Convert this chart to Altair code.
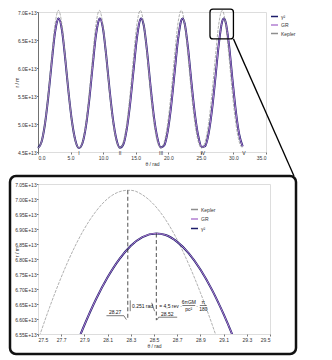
import altair as alt
import pandas as pd

# ---------------- main panel data (r in units of 1e13 m) ----------------
theta_top = [0.000, 0.524, 1.047, 1.571, 2.094, 2.618, 3.142, 3.665, 4.189, 4.712, 5.236, 5.760,
             6.283, 6.807, 7.330, 7.854, 8.378, 8.901, 9.425, 9.948, 10.472, 10.996, 11.519, 12.043,
             12.566, 13.090, 13.614, 14.137, 14.661, 15.184, 15.708, 16.232, 16.755, 17.279, 17.802, 18.326,
             18.850, 19.373, 19.897, 20.420, 20.944, 21.468, 21.991, 22.515, 23.038, 23.562, 24.086, 24.609,
             25.133, 25.656, 26.180, 26.704, 27.227, 27.751, 28.274, 28.798, 29.322, 29.845, 30.369, 30.892,
             31.416]
kepler_top = [4.570, 4.680, 5.008, 5.539, 6.196, 6.785, 7.029, 6.785, 6.196, 5.539, 5.008, 4.680,
              4.570, 4.680, 5.008, 5.539, 6.196, 6.785, 7.029, 6.785, 6.196, 5.539, 5.008, 4.680,
              4.570, 4.680, 5.008, 5.539, 6.196, 6.785, 7.029, 6.785, 6.196, 5.539, 5.008, 4.680,
              4.570, 4.680, 5.008, 5.539, 6.196, 6.785, 7.029, 6.785, 6.196, 5.539, 5.008, 4.680,
              4.570, 4.680, 5.008, 5.539, 6.196, 6.785, 7.029, 6.785, 6.196, 5.539, 5.008, 4.680,
              4.570]
gr_top = [4.570, 4.673, 4.982, 5.478, 6.089, 6.640, 6.884, 6.685, 6.155, 5.540, 5.027, 4.697,
          4.571, 4.652, 4.939, 5.418, 6.022, 6.591, 6.879, 6.726, 6.220, 5.603, 5.074, 4.722,
          4.575, 4.634, 4.899, 5.359, 5.956, 6.540, 6.868, 6.763, 6.284, 5.668, 5.123, 4.750,
          4.581, 4.618, 4.861, 5.301, 5.889, 6.484, 6.852, 6.795, 6.346, 5.733, 5.174, 4.781,
          4.589, 4.604, 4.825, 5.246, 5.822, 6.427, 6.831, 6.823, 6.407, 5.799, 5.227, 4.813,
          4.600]
gr_peak_theta = [3.170, 9.509, 15.848, 22.187, 28.527]
gr_peak_r = [6.885, 6.885, 6.885, 6.885, 6.885]
gamma2_top = list(gr_top)
gamma2_peak_r = list(gr_peak_r)

orbit_labels = ["I", "II", "III", "IV", "V"]
orbit_label_theta = [6.3, 12.6, 18.9, 25.3, 31.6]

top_x_ticks = [0, 5, 10, 15, 20, 25, 30, 35]
top_y_ticks = [4.5e13, 5.0e13, 5.5e13, 6.0e13, 6.5e13, 7.0e13]

# ---------------- zoom panel data ----------------
theta_kep_zoom = [27.5, 27.6, 27.7, 27.8, 27.9, 28.0, 28.1, 28.2, 28.274, 28.3, 28.4, 28.5,
                  28.6, 28.7, 28.8, 28.9, 29.0, 29.1]
kepler_zoom = [6.529, 6.639, 6.739, 6.827, 6.901, 6.959, 7.001, 7.024, 7.029, 7.029, 7.014, 6.981,
               6.931, 6.864, 6.782, 6.688, 6.583, 6.468]
theta_gr_zoom = [27.8, 27.9, 28.0, 28.1, 28.2, 28.3, 28.4, 28.52, 28.6, 28.7, 28.8, 28.9,
                 29.0, 29.1, 29.2, 29.3]
gr_zoom = [6.484, 6.580, 6.666, 6.739, 6.799, 6.844, 6.873, 6.885, 6.880, 6.857, 6.819, 6.765,
           6.697, 6.616, 6.524, 6.423]
gamma2_zoom = list(gr_zoom)

low_x_ticks = [27.5, 27.7, 27.9, 28.1, 28.3, 28.5, 28.7, 28.9, 29.1, 29.3, 29.5]
low_y_ticks = [6.55e13, 6.60e13, 6.65e13, 6.70e13, 6.75e13, 6.80e13, 6.85e13, 6.90e13, 6.95e13,
               7.00e13, 7.05e13]

kepler_peak = [28.274, 7.029]
gr_peak = [28.52, 6.885]

# ---------------- styling ----------------
FONT = "Liberation Sans Narrow, Liberation Sans, sans-serif"
C_GAMMA = "#1d1d6b"
C_GR = "#b27fd2"
C_KEP = "#8e8e8e"
FS = 5

top_w, top_h = 228, 140
low_w, low_h = 232, 150


def frame(name, th, rr):
    return pd.DataFrame({"series": name, "theta": th, "r": [v * 1e13 for v in rr]})


def x_axis(vals):
    return alt.Axis(values=vals, tickCount=40, format=".1f", title="θ / rad", domain=False, grid=False,
                    labelOverlap=False, tickSize=2, tickColor="#777", labelFontSize=FS, labelPadding=1,
                    titleFontSize=FS, titleFontWeight="normal", titlePadding=1,
                    labelColor="#333", titleColor="#333", labelFont=FONT, titleFont=FONT)


def y_axis(vals, fmt, show_domain, title_y):
    return alt.Axis(values=vals, tickCount=40,
                    labelExpr="replace(format(datum.value, '" + fmt + "'), 'e', 'E')",
                    title="r / m", domain=show_domain, domainColor="#555", domainWidth=0.8, grid=False,
                    labelOverlap=False, tickSize=1.5, tickColor="#777", labelFontSize=FS, labelPadding=0.3,
                    titleFontSize=FS, titleFontWeight="normal", titleX=-22, titleY=title_y,
                    titleBaseline="middle", labelColor="#333", titleColor="#333",
                    labelFont=FONT, titleFont=FONT)


one = pd.DataFrame({"a": [1]})

# ================= top panel =================
kep_df = frame("Kepler", theta_top, kepler_top)
gr_df = pd.concat([frame("GR", theta_top, gr_top), frame("GR", gr_peak_theta, gr_peak_r)]).sort_values("theta")
ga_df = pd.concat([frame("γ²", theta_top, gamma2_top), frame("γ²", gr_peak_theta, gamma2_peak_r)]).sort_values("theta")

x_top = alt.X("theta:Q", scale=alt.Scale(domain=[0, 35], nice=False, zero=False), axis=x_axis(top_x_ticks))
y_top = alt.Y("r:Q", scale=alt.Scale(domain=[4.5e13, 7.0e13], nice=False, zero=False),
              axis=y_axis(top_y_ticks, ".1e", True, 70))

top_scale = alt.Scale(domain=["γ²", "GR", "Kepler"], range=[C_GAMMA, C_GR, C_KEP])
top_legend = alt.Legend(orient="none", legendX=232, legendY=0, title=None, labelFontSize=FS,
                        labelFont=FONT, labelColor="#333", symbolType="stroke", symbolStrokeWidth=1.5,
                        symbolSize=49, rowPadding=0.5, labelOffset=2, padding=0)
c_top = alt.Color("series:N", scale=top_scale, legend=top_legend)

t_gamma = alt.Chart(ga_df).mark_line(strokeWidth=2.0, interpolate="monotone").encode(x=x_top, y=y_top, color=c_top)
t_gr = alt.Chart(gr_df).mark_line(strokeWidth=1.0, interpolate="monotone").encode(x=x_top, y=y_top, color=c_top)
t_kep = alt.Chart(kep_df).mark_line(strokeWidth=0.7, strokeDash=[3, 1.2], interpolate="monotone").encode(
    x=x_top, y=y_top, color=c_top)

roman_df = pd.DataFrame({"label": orbit_labels, "theta": orbit_label_theta})
t_roman = alt.Chart(roman_df).mark_text(fontSize=FS, font=FONT, color="#222", baseline="middle").encode(
    x=x_top, y=alt.value(top_h + 1), text="label:N")

t_zoombox = alt.Chart(one).mark_rect(filled=False, stroke="black", strokeWidth=1.3, cornerRadius=3).encode(
    x=alt.datum(26.4), x2=alt.datum(30.0), y=alt.datum(7.05e13), y2=alt.datum(6.52e13))
t_connector = alt.Chart(one).mark_rule(color="black", strokeWidth=1.3).encode(
    x=alt.datum(30.0), y=alt.datum(6.52e13), x2=alt.value(256), y2=alt.value(top_h + 24))

top = alt.layer(t_connector, t_gamma, t_gr, t_kep, t_roman, t_zoombox).properties(width=top_w, height=top_h)

# ================= zoom panel =================
lkep_df = frame("Kepler", theta_kep_zoom, kepler_zoom)
lgr_df = frame("GR", theta_gr_zoom, gr_zoom)
lga_df = frame("γ²", theta_gr_zoom, gamma2_zoom)

x_low = alt.X("theta:Q", scale=alt.Scale(domain=[27.5, 29.5], nice=False, zero=False), axis=x_axis(low_x_ticks))
y_low = alt.Y("r:Q", scale=alt.Scale(domain=[6.55e13, 7.05e13], nice=False, zero=False),
              axis=y_axis(low_y_ticks, ".2e", False, 67.5))

low_scale = alt.Scale(domain=["Kepler", "GR", "γ²"], range=[C_KEP, C_GR, C_GAMMA])
low_legend = alt.Legend(orient="none", legendX=152, legendY=21, title=None, labelFontSize=FS,
                        labelFont=FONT, labelColor="#333", symbolType="stroke", symbolStrokeWidth=1.5,
                        symbolSize=49, rowPadding=1.5, labelOffset=2, padding=0)
c_low = alt.Color("series:N", scale=low_scale, legend=low_legend)

l_kep = alt.Chart(lkep_df).mark_line(strokeWidth=0.7, strokeDash=[3, 1.2], interpolate="monotone", clip=True).encode(
    x=x_low, y=y_low, color=c_low)
l_gamma = alt.Chart(lga_df).mark_line(strokeWidth=2.0, interpolate="monotone", clip=True).encode(
    x=x_low, y=y_low, color=c_low)
l_gr = alt.Chart(lgr_df).mark_line(strokeWidth=1.0, interpolate="monotone", clip=True).encode(
    x=x_low, y=y_low, color=c_low)

dash_df = pd.DataFrame({"theta": [kepler_peak[0], gr_peak[0]],
                        "top": [kepler_peak[1] * 1e13, gr_peak[1] * 1e13],
                        "bot": [6.596e13, 6.596e13]})
l_dash = alt.Chart(dash_df).mark_rule(color="#222", strokeWidth=0.8, strokeDash=[4, 2.5]).encode(
    x="theta:Q", y="top:Q", y2="bot:Q")

# bracket strokes of the annotation (theta, r pairs)
seg_df = pd.DataFrame({
    "x1": [28.09, 28.24, 28.295, 28.48, 28.54, 28.54, 28.745, 28.895],
    "y1": [6.611e13, 6.611e13, 6.662e13, 6.654e13, 6.606e13, 6.606e13, 6.645e13, 6.645e13],
    "x2": [28.24, 28.262, 28.295, 28.505, 28.70, 28.526, 28.855, 28.955],
    "y2": [6.611e13, 6.598e13, 6.626e13, 6.626e13, 6.606e13, 6.597e13, 6.645e13, 6.645e13],
})
l_seg = alt.Chart(seg_df).mark_rule(color="#222", strokeWidth=0.6).encode(
    x="x1:Q", y="y1:Q", x2="x2:Q", y2="y2:Q")

ann_df = pd.DataFrame({
    "text": ["28.27", "0.251 rad", "= 4,5 rev ·", "28.52", "6πGM", "pc²", "·", "π", "180"],
    "theta": [28.165, 28.31, 28.545, 28.56, 28.80, 28.80, 28.872, 28.925, 28.925],
    "r": [6.622e13, 6.645e13, 6.645e13, 6.617e13, 6.657e13, 6.633e13, 6.645e13, 6.657e13, 6.633e13],
    "align": ["center", "left", "left", "left", "center", "center", "center", "center", "center"],
})
ann_left = ann_df[ann_df["align"] == "left"]
ann_center = ann_df[ann_df["align"] == "center"]
l_ann_l = alt.Chart(ann_left).mark_text(fontSize=FS, font=FONT, color="#111", baseline="middle", align="left").encode(
    x="theta:Q", y="r:Q", text="text:N")
l_ann_c = alt.Chart(ann_center).mark_text(fontSize=FS, font=FONT, color="#111", baseline="middle", align="center").encode(
    x="theta:Q", y="r:Q", text="text:N")

l_box = alt.Chart(one).mark_rect(filled=False, stroke="#111", strokeWidth=2.5, cornerRadius=6).encode(
    x=alt.value(-28), x2=alt.value(258), y=alt.value(-8), y2=alt.value(low_h + 20))

low = alt.layer(l_kep, l_gamma, l_gr, l_dash, l_seg, l_ann_l, l_ann_c, l_box).properties(width=low_w, height=low_h)

chart = alt.vconcat(top, low, spacing=32, bounds="flush").resolve_scale(
    x="independent", y="independent", color="independent").resolve_legend(color="independent").properties(
    padding=0).configure_view(stroke="transparent").configure(font=FONT)

chart.save("out.html", embed_options={"renderer": "svg", "actions": False})
